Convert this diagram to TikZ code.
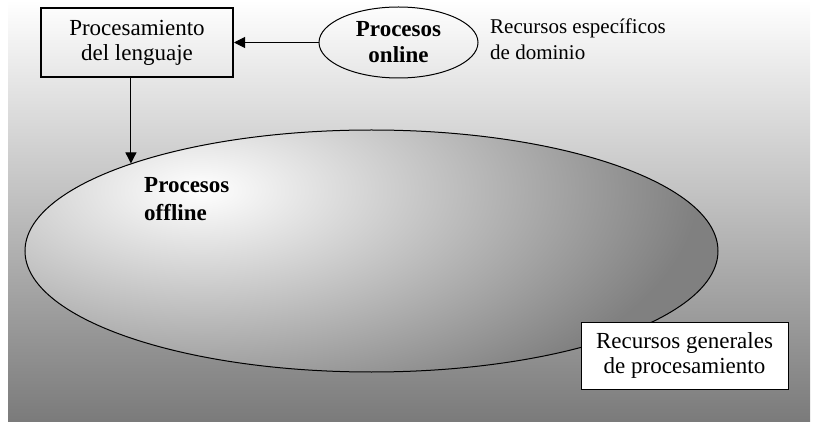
\documentclass[tikz,border=0pt]{standalone}
\usepackage{fontspec}
\setmainfont{Liberation Serif}
\usetikzlibrary{shapes.geometric,arrows.meta}

\tikzset{
  letra/.style={font=\fontsize{23}{25}\selectfont},
  caja/.style={shape=rectangle,draw=black,letra,align=center,inner sep=0pt},
  nota/.style={anchor=base west,align=left,inner sep=0pt},
  flecha/.style={-{Triangle[length=11pt,width=11pt]},line width=1pt}
}

\begin{document}
\begin{tikzpicture}[x=1pt,y=-1pt]
	
	\useasboundingbox (0,0) rectangle (817,422);
	\shade[top color=white,middle color=black!22,bottom color=black!52] (8,0) rectangle (810,422);
	
	\node[shape=ellipse,draw=black,line width=1pt,inner sep=0pt,minimum width=693pt,minimum height=242pt,
	      path picture={
	        \fill[black!50] (path picture bounding box.south west) rectangle (path picture bounding box.north east);
	        \shade[inner color=white,outer color=black!50] ([shift={(-171,-61)}]path picture bounding box.center) ellipse [x radius=500, y radius=240];
	      }] (offline) at (371.5,251) {};
	
	\node[caja,line width=2pt,minimum width=192pt,minimum height=69pt] (lenguaje) at (137,42.5) {Procesamiento\\del lenguaje};
	\node[shape=ellipse,draw=black,line width=1pt,inner sep=0pt,minimum width=159pt,minimum height=71pt,align=center,
	      font=\fontsize{23}{26}\selectfont\bfseries] (online) at (398.5,42.5) {Procesos\\online};
	\node[nota,font=\fontsize{21}{26}\selectfont] (especificos) at (490,60) {Recursos específicos\\de dominio};
	\node[nota,font=\fontsize{23}{28}\selectfont\bfseries] (procoff) at (144,221) {Procesos\\offline};
	\node[caja,line width=1pt,fill=white,minimum width=207pt,minimum height=67pt] (generales) at (684.5,355.5) {Recursos generales\\de procesamiento};
	
	\draw[flecha] (online) -- (lenguaje);
	\draw[flecha] (lenguaje.south -| offline.160) -- (offline.160);
	
\end{tikzpicture}
\end{document}
